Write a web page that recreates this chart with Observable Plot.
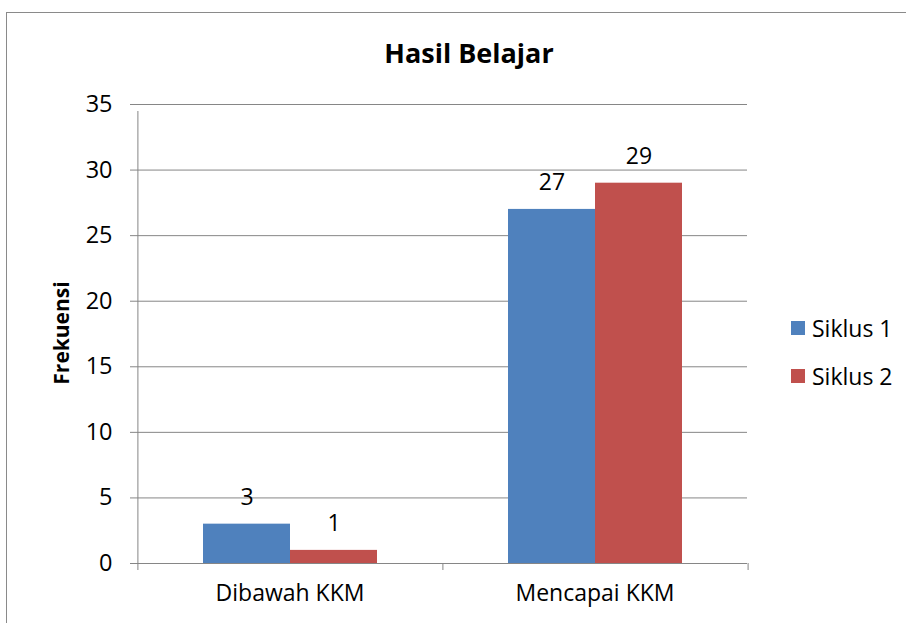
<!DOCTYPE html>
<html>
<head>
<meta charset="utf-8">
<script src="https://cdn.jsdelivr.net/npm/d3@7"></script>
<script src="https://cdn.jsdelivr.net/npm/@observablehq/plot@0.6"></script>
<style>
  html, body { margin: 0; padding: 0; background: #fff; overflow: hidden; }
  #wrap { position: relative; width: 906px; height: 623px; overflow: hidden; font-family: "Open Sans", sans-serif; }
  #border { position: absolute; left: 6px; top: 12px; width: 1000px; height: 1000px; border: 1.5px solid #8a8a8a; box-sizing: border-box; }
  #title { position: absolute; left: 0; width: 938px; top: 53px; transform: translateY(-50%); text-align: center; font-weight: bold; font-size: 27px; line-height: 32px; color: #000; }
  #ylabel { position: absolute; left: 61px; top: 333px; transform: translate(-50%, -50%) rotate(-90deg); font-weight: bold; font-size: 21px; white-space: nowrap; }
  #chart { position: absolute; left: 0; top: 0; }
  #legend { position: absolute; left: 791px; top: 314px; font-size: 23px; }
  .li { display: flex; align-items: center; height: 28px; margin-bottom: 20px; }
  .sw { width: 14px; height: 14px; margin-right: 7px; }
</style>
</head>
<body>
<div id="wrap">
  <div id="border"></div>
  <div id="title">Hasil Belajar</div>
  <div id="chart"></div>
  <div id="ylabel">Frekuensi</div>
  <div id="legend"></div>
</div>
<script>
const categories = ["Dibawah KKM", "Mencapai KKM"];
const series = ["Siklus 1", "Siklus 2"];
const siklus1 = [3, 27];
const siklus2 = [1, 29];
const colors = ["#4F81BD", "#C0504D"];
const yTicks = [0, 5, 10, 15, 20, 25, 30, 35];

const data = [];
categories.forEach((c, i) => {
  data.push({category: c, series: series[0], value: siklus1[i]});
  data.push({category: c, series: series[1], value: siklus2[i]});
});

const W = 906, H = 623, mL = 136, mR = 159, mT = 104, mB = 60;
const outer = 0.75;
const facetW = (W - mL - mR) / categories.length;
const step = facetW / (series.length + 2 * outer);
const edge = step / 2 + outer * step;
const gray = "#868686";

const plot = Plot.plot({
  width: W, height: H,
  marginLeft: mL, marginRight: mR, marginTop: mT, marginBottom: mB,
  style: {fontFamily: "'Open Sans', sans-serif", background: "transparent"},
  fx: {domain: categories, padding: 0, label: null},
  x: {domain: series, paddingInner: 0, paddingOuter: outer, axis: null},
  y: {domain: [0, 35], label: null},
  color: {domain: series, range: colors},
  marks: [
    Plot.gridY(yTicks, {stroke: gray, strokeOpacity: 1}),
    Plot.axisY(yTicks, {tickSize: 7, tickPadding: 18, fontSize: 23.5, stroke: gray, fill: "#000", label: null}),
    Plot.axisFx({anchor: "bottom", tickSize: 0, tickPadding: 21, fontSize: 23, label: null}),
    Plot.ruleX([series[0]], {x: d => d, fx: () => categories[0], y1: 0, y2: 35, dx: -edge, stroke: gray, insetBottom: -7}),
    Plot.ruleX(categories, {x: () => series[0], fx: d => d, y1: 0, y2: 0, dx: -edge, stroke: gray, insetBottom: -7}),
    Plot.ruleX([categories[categories.length - 1]], {x: () => series[1], fx: d => d, y1: 0, y2: 0, dx: edge, stroke: gray, insetBottom: -7}),
    Plot.barY(data, {fx: "category", x: "series", y: "value", fill: "series"}),
    Plot.text(data, {fx: "category", x: "series", y: "value", text: d => String(d.value), dy: -27, fontSize: 23, fill: "#000", lineAnchor: "middle"})
  ]
});
document.getElementById("chart").appendChild(plot);

const lg = document.getElementById("legend");
series.forEach((s, i) => {
  const row = document.createElement("div");
  row.className = "li";
  row.innerHTML = `<div class="sw" style="background:${colors[i]}"></div><span>${s}</span>`;
  lg.appendChild(row);
});
</script>
</body>
</html>
